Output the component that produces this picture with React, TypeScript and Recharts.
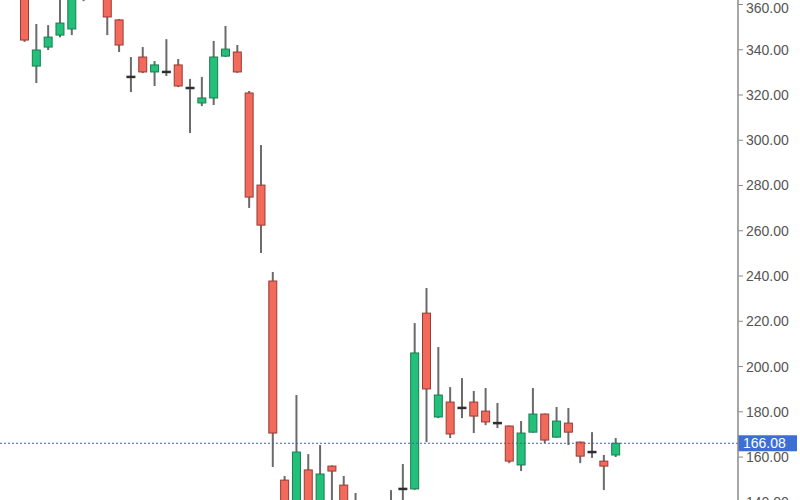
import React from 'react';
import { ComposedChart, Bar, XAxis, YAxis, ReferenceLine } from 'recharts';

// OHLC per session, oldest first
const opens = [
  372, 332.8, 341.2, 346.5, 349.2, 368, 378, 368, 353.2, 328.0,
  336.8, 330.2, 330.2, 333.3, 323.1, 316.5, 318.7, 337.2, 339.0, 320.9,
  280.2, 237.8, 149.8, 137, 154.3, 140, 156.0, 147.6, 140, 136,
  134, 138, 145.9, 145.9, 223.6, 177.7, 184.3, 181.7, 184.3, 180.3,
  175.0, 173.7, 156.5, 171.0, 179.0, 168.8, 175.0, 166.6, 162.2, 158.2,
  160.9,
];
const highs = [
  376, 351.4, 350.9, 363, 370, 380, 382, 372, 353.6, 336.8,
  341.2, 335.0, 344.7, 335.9, 327.1, 328.0, 343.9, 350.5, 342.1, 321.8,
  297.9, 241.8, 151.6, 187.4, 161.3, 165.3, 156.3, 151.6, 144.1, 139.5,
  140, 145.4, 156.9, 219.2, 234.7, 208.6, 190.9, 194.9, 189.2, 190.5,
  183.9, 173.9, 175.9, 190.5, 179.2, 182.1, 181.7, 166.8, 171.0, 160.9,
  168.4,
];
const lows = [
  343.5, 325.3, 339.9, 345.5, 346.5, 361.5, 366, 346.5, 339.0, 321.3,
  329.7, 324.0, 328.4, 323.5, 303.2, 315.1, 315.6, 336.8, 329.8, 270.1,
  250.2, 155.6, 133, 134, 136, 137, 137, 136, 134, 130,
  131, 134, 140, 145.5, 166.6, 177.2, 168.4, 177.2, 170.6, 174.1,
  172.8, 157.3, 153.8, 170.8, 166.2, 168.5, 165.3, 157.3, 159.6, 145.4,
  160.0,
];
const closes = [
  344.3, 339.9, 345.6, 351.8, 366, 375, 372, 354.5, 342.1, 328.0,
  330.2, 333.3, 330.2, 324.0, 323.1, 318.7, 336.8, 340.3, 330.2, 274.9,
  262.5, 170.6, 136, 162.2, 139, 152.5, 153.8, 140, 138, 133,
  137, 140, 145.9, 206.0, 190.1, 187.4, 170.2, 181.7, 178.1, 175.5,
  175.0, 158.2, 170.6, 179.0, 167.5, 175.9, 171.0, 160.4, 162.2, 156.0,
  166.08,
];

const priceTicks = [140, 160, 180, 200, 220, 240, 260, 280, 300, 320, 340, 360];
const lastPrice = 166.08;

const data = opens.map((o, i) => ({
  d: i,
  range: [lows[i], highs[i]],
  open: o,
  close: closes[i],
}));

const Candle = (props: any) => {
  const { x, y, width, height, payload } = props;
  const [low, high] = payload.range;
  const top = Math.min(y, y + height);
  const bottom = Math.max(y, y + height);
  const k = (bottom - top) / (high - low);
  const py = (v: number) => bottom - (v - low) * k;
  const cx = x + width / 2;
  const { open, close } = payload;
  const up = close > open;
  const yo = py(open);
  const yc = py(close);
  const bTop = Math.min(yo, yc);
  const bH = Math.abs(yo - yc);
  return (
    <g>
      <line x1={cx} x2={cx} y1={top} y2={bottom} stroke="#6a6a6a" strokeWidth={2} />
      {open === close ? (
        <line x1={x} x2={x + width} y1={yo} y2={yo} stroke="#2e2e2e" strokeWidth={2.5} />
      ) : (
        <rect
          x={x + 0.5}
          y={bTop}
          width={width - 1}
          height={Math.max(bH, 2)}
          fill={up ? '#22c07a' : '#f26a5c'}
          stroke={up ? '#1b7c4e' : '#9a3b33'}
          strokeWidth={1}
        />
      )}
    </g>
  );
};

const PriceTag = (props: any) => {
  const { viewBox } = props;
  const x = viewBox.x + viewBox.width;
  const y = viewBox.y;
  return (
    <g>
      <rect x={x} y={y - 8} width={59} height={16} fill="#3b6fd4" />
      <text x={x + 5} y={y + 5} fill="#fff" fontSize={14} fontFamily="Arial, 'Liberation Sans', sans-serif">
        {lastPrice.toFixed(2)}
      </text>
    </g>
  );
};

export default function App() {
  return (
    <div style={{ position: 'fixed', left: 0, top: 0, width: 800, height: 500, overflow: 'hidden', background: '#fff' }}>
      <ComposedChart width={800} height={520} data={data} margin={{ top: 0, right: 0, bottom: 0, left: 0 }}>
        <XAxis dataKey="d" hide padding={{ left: 19, right: 116 }} />
        <YAxis
          orientation="right"
          width={62}
          domain={[132.17, 362]}
          allowDataOverflow
          ticks={priceTicks}
          tickFormatter={(v: number) => v.toFixed(2)}
          axisLine={{ stroke: '#8a8a8a', strokeWidth: 1.5 }}
          tickLine={{ stroke: '#8a8a8a' }}
          tickSize={5}
          tickMargin={3}
          tick={{ fill: '#555', fontSize: 14, fontFamily: "Arial, 'Liberation Sans', sans-serif", textAnchor: 'start' }}
        />
        <Bar dataKey="range" barSize={9} shape={<Candle />} isAnimationActive={false} />
        <ReferenceLine
          y={lastPrice}
          stroke="#3f62a8"
          strokeDasharray="2 2"
          label={<PriceTag />}
        />
      </ComposedChart>
    </div>
  );
}
